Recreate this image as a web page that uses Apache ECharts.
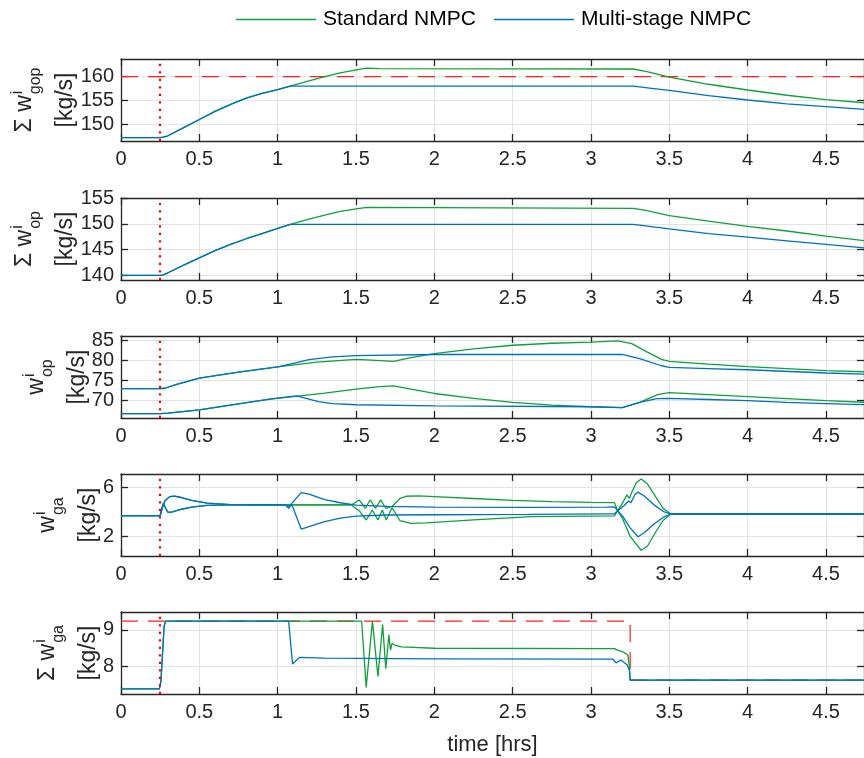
<!DOCTYPE html>
<html><head><meta charset="utf-8">
<script src="https://cdn.jsdelivr.net/npm/echarts@6/dist/echarts.min.js"></script>
<style>html,body{margin:0;padding:0;background:#fff}#c{width:864px;height:758px}</style>
</head><body><div id="c"></div>
<script>
// ---------------- data ----------------
const xTicks = [0, 0.5, 1, 1.5, 2, 2.5, 3, 3.5, 4, 4.5];
const disturbanceTime = 0.252;

// subplot 1: sum w_gop
const gopT_std = [0,0.25,0.27,0.3,0.4,0.5,0.6,0.7,0.8,0.9,1.0,1.08,1.2,1.3,1.4,1.5,1.57,1.65,3.27,3.35,3.5,3.75,4.0,4.25,4.5,4.75];
const gopStd   = [147.2,147.2,147.3,147.6,149.3,151.0,152.7,154.2,155.5,156.5,157.3,158.0,159.1,160.0,160.8,161.4,161.8,161.7,161.6,161.1,159.9,158.4,157.2,156.1,155.2,154.5];
const gopT_ms  = [0,0.25,0.27,0.3,0.4,0.5,0.6,0.7,0.8,0.9,1.0,1.08,3.27,3.4,3.5,3.75,4.0,4.25,4.5,4.75];
const gopMs    = [147.2,147.2,147.3,147.6,149.3,151.0,152.7,154.2,155.5,156.5,157.3,158.0,158.0,157.5,157.1,156.0,155.1,154.3,153.7,153.1];
const gopLimit = 160;
const gopTicks = [150, 155, 160];

// subplot 2: sum w_op
const opT_std = [0,0.25,0.27,0.3,0.4,0.5,0.6,0.7,0.8,0.9,1.0,1.08,1.2,1.3,1.4,1.5,1.57,3.27,3.35,3.5,3.75,4.0,4.25,4.5,4.75];
const opStd   = [140.0,140.0,140.1,140.5,142.0,143.4,144.8,146.0,147.1,148.1,149.1,149.9,150.9,151.7,152.4,152.9,153.2,153.0,152.6,151.6,150.5,149.5,148.6,147.6,146.7];
const opT_ms  = [0,0.25,0.27,0.3,0.4,0.5,0.6,0.7,0.8,0.9,1.0,1.08,3.27,3.5,3.75,4.0,4.25,4.5,4.75];
const opMs    = [140.0,140.0,140.1,140.5,142.0,143.4,144.8,146.0,147.1,148.1,149.1,149.9,149.9,149.0,148.1,147.4,146.7,146.0,145.3];
const opTicks = [140, 145, 150, 155];

// subplot 3: w_op per well
const op1T_std = [0,0.25,0.28,0.35,0.5,0.75,1.0,1.25,1.5,1.6,1.74,1.85,2.0,2.25,2.5,2.75,3.0,3.17,3.26,3.36,3.45,3.5,3.75,4.0,4.25,4.5,4.75];
const op1Std   = [73.0,73.0,73.1,74.0,75.6,77.1,78.4,79.6,80.3,80.1,79.8,80.7,81.7,82.9,83.8,84.3,84.6,84.9,84.2,82.1,80.3,79.8,79.1,78.5,78.0,77.5,77.2];
const op1T_ms  = [0,0.25,0.28,0.35,0.5,0.75,1.0,1.1,1.2,1.35,1.5,2.0,3.2,3.31,3.45,3.5,3.75,4.0,4.5,4.75];
const op1Ms    = [73.0,73.0,73.1,74.0,75.6,77.1,78.4,79.3,80.2,80.9,81.2,81.5,81.5,80.5,78.7,78.3,78.0,77.7,76.9,76.6];
const op2T_std = [0,0.25,0.3,0.5,0.75,0.95,1.1,1.3,1.5,1.65,1.74,1.85,2.0,2.25,2.5,2.75,3.0,3.2,3.31,3.43,3.5,3.75,4.0,4.25,4.5,4.75];
const op2Std   = [66.8,66.8,66.9,67.7,69.2,70.4,71.0,71.9,72.9,73.5,73.7,72.9,71.8,70.6,69.6,68.9,68.5,68.3,69.6,71.6,72.0,71.5,71.0,70.5,70.0,69.6];
const op2T_ms  = [0,0.25,0.3,0.5,0.75,0.95,1.05,1.12,1.2,1.26,1.35,1.5,2.0,3.0,3.2,3.31,3.42,3.5,3.75,4.0,4.25,4.5,4.75];
const op2Ms    = [66.8,66.8,66.9,67.7,69.2,70.4,70.9,71.2,70.4,69.8,69.3,69.0,68.7,68.5,68.3,69.6,70.5,70.6,70.3,70.0,69.6,69.3,69.0];
const opWellTicks = [70, 75, 80, 85];

// subplot 4: w_ga per well
const ga1T_std = [0,0.25,0.265,0.28,0.31,0.34,0.38,0.45,0.55,0.7,0.9,1.47,1.52,1.56,1.59,1.625,1.657,1.69,1.73,1.78,1.82,1.9,2.0,2.25,2.5,2.75,3.0,3.15,3.17,3.2,3.25,3.32,3.36,3.41,3.46,3.51,4.75];
const ga1Std   = [3.7,3.7,4.4,4.9,5.25,5.3,5.2,4.95,4.72,4.6,4.58,4.57,4.98,4.30,4.98,4.30,4.98,4.30,4.45,5.1,5.28,5.31,5.25,5.1,4.95,4.85,4.78,4.76,4.1,3.5,2.0,0.87,1.2,2.3,3.3,3.83,3.83];
const ga2T_std = [0,0.25,0.27,0.285,0.30,0.33,0.38,0.45,0.55,0.7,0.9,1.47,1.52,1.566,1.604,1.64,1.668,1.693,1.73,1.78,1.85,1.95,2.25,2.62,3.0,3.15,3.17,3.2,3.23,3.245,3.26,3.29,3.32,3.36,3.41,3.46,3.51,4.75];
const ga2Std   = [3.7,3.7,4.7,4.3,3.97,4.0,4.2,4.4,4.53,4.58,4.58,4.57,4.1,3.34,4.16,3.34,4.16,3.34,4.35,3.3,3.07,3.1,3.35,3.61,3.66,3.68,4.1,4.7,5.4,5.1,5.6,6.4,6.7,6.3,5.3,4.3,3.83,3.83];
const ga1T_ms  = [0,0.25,0.265,0.28,0.31,0.34,0.38,0.45,0.55,0.7,0.9,1.05,1.07,1.09,1.15,1.2,1.3,1.4,1.5,1.7,2.0,2.6,3.1,3.15,3.17,3.2,3.25,3.30,3.34,3.40,3.46,3.51,4.75];
const ga1Ms    = [3.7,3.7,4.4,4.9,5.25,5.3,5.2,4.95,4.72,4.6,4.58,4.57,4.45,4.7,5.58,5.45,5.0,4.75,4.55,4.45,4.4,4.38,4.4,4.42,4.1,3.7,2.7,1.97,2.3,3.0,3.55,3.83,3.83];
const ga2T_ms  = [0,0.25,0.27,0.285,0.30,0.33,0.38,0.45,0.55,0.7,0.9,1.05,1.07,1.09,1.15,1.2,1.3,1.4,1.5,1.7,2.0,2.6,3.1,3.15,3.17,3.21,3.24,3.255,3.28,3.30,3.34,3.40,3.46,3.51,4.75];
const ga2Ms    = [3.7,3.7,4.7,4.3,3.97,4.0,4.2,4.4,4.53,4.58,4.58,4.57,4.3,4.6,2.6,2.8,3.2,3.5,3.65,3.75,3.77,3.8,3.85,3.85,4.1,4.5,4.9,4.75,5.4,5.62,5.3,4.6,4.05,3.83,3.83];
const gaTicks = [2, 6];

// subplot 5: sum w_ga
const sumT_std = [0,0.245,0.255,0.275,0.285,1.536,1.565,1.605,1.64,1.67,1.69,1.71,1.72,1.73,1.75,1.79,2.0,3.15,3.17,3.2,3.235,3.245,3.25,4.75];
const sumStd   = [7.39,7.39,7.6,9.1,9.24,9.24,7.43,9.24,7.73,9.15,7.94,8.87,8.45,8.63,8.58,8.54,8.5,8.49,8.45,8.41,8.32,8.0,7.63,7.63];
const sumT_ms  = [0,0.245,0.255,0.275,0.285,1.07,1.095,1.14,1.3,2.0,3.14,3.16,3.19,3.23,3.245,3.25,4.75];
const sumMs    = [7.39,7.39,7.6,9.1,9.24,9.24,8.07,8.25,8.23,8.21,8.2,8.1,8.18,8.05,7.9,7.63,7.63];
const sumLimT  = [0,3.25,3.25,4.75];
const sumLimV  = [9.24,9.24,7.63,7.63];
const sumTicks = [8, 9];

// ---------------- layout / style ----------------
const FONT = '"Liberation Sans", Arial, Helvetica, sans-serif';
const TXT = '#262626';
const GREEN = '#0fa03c';
const BLUE = '#0072bd';
const RED = '#ff1f1f';
const tops = [59, 198, 336, 474, 612];
const H = 82, LEFT = 121, W = 746;
const XMAX = W / 157.3;
const yRanges = [[146.5,163.7],[139.1,155.0],[65.7,86.1],[0.4,7.1],[7.25,9.49]];
const yTicks = [gopTicks, opTicks, opWellTicks, gaTicks, sumTicks];

const pairs = (t, v) => t.map((x, i) => [x, v[i]]);

const grid = tops.map(t => ({left: LEFT, top: t, width: W, height: H, containLabel: false}));
const xAxis = [], yAxis = [];
tops.forEach((t, i) => {
  const common = {type: 'value', gridIndex: i, min: 0, max: XMAX,
    axisLine: {show: true, onZero: false, lineStyle: {color: TXT, width: 1.3}},
    axisTick: {show: true, inside: true, length: 7, customValues: xTicks, lineStyle: {color: TXT, width: 1.3}}};
  xAxis.push(Object.assign({}, common, {position: 'bottom',
    axisLabel: {show: true, customValues: xTicks, margin: 8, fontSize: 20, fontFamily: FONT, color: TXT},
    splitLine: {show: true, lineStyle: {color: '#e3e3e3', width: 1}},
    name: i === 4 ? 'time [hrs]' : '', nameLocation: 'middle', nameGap: 40,
    nameTextStyle: {fontSize: 22, fontFamily: FONT, color: TXT}}));
  xAxis.push(Object.assign({}, common, {position: 'top', axisLabel: {show: false}, splitLine: {show: false}}));
  const yc = {type: 'value', gridIndex: i, min: yRanges[i][0], max: yRanges[i][1],
    axisLine: {show: true, onZero: false, lineStyle: {color: TXT, width: 1.3}},
    axisTick: {show: true, inside: true, length: 7, customValues: yTicks[i], lineStyle: {color: TXT, width: 1.3}}};
  yAxis.push(Object.assign({}, yc, {position: 'left',
    axisLabel: {show: true, customValues: yTicks[i], margin: 7, fontSize: 20, fontFamily: FONT, color: TXT},
    splitLine: {show: true, lineStyle: {color: '#e3e3e3', width: 1}}}));
  yAxis.push(Object.assign({}, yc, {position: 'right', axisLabel: {show: false}, splitLine: {show: false}}));
});

const series = [];
function line(name, gi, data, color, extra) {
  return Object.assign({type: 'line', name, xAxisIndex: 2 * gi, yAxisIndex: 2 * gi, data,
    symbol: 'none', showSymbol: false, smooth: false, animation: false,
    lineStyle: {color, width: 1.3}, itemStyle: {color}, z: 3}, extra || {});
}
function limit(gi, data) {
  return {type: 'line', name: 'limit', xAxisIndex: 2 * gi, yAxisIndex: 2 * gi, data,
    symbol: 'none', showSymbol: false, animation: false, silent: true,
    lineStyle: {color: RED, width: 1.2, type: [17, 10]}, z: 2};
}
function dotted() {
  return {silent: true, symbol: 'none', animation: false, label: {show: false},
    lineStyle: {color: '#ff0000', width: 2.2, type: [2.2, 5.3]}, data: [{xAxis: disturbanceTime}]};
}
series.push(limit(0, gopT_std.map(x => [x, gopLimit])));
series.push(limit(4, pairs(sumLimT, sumLimV)));
const S = 'Standard NMPC', M = 'Multi-stage NMPC';
series.push(line(S, 0, pairs(gopT_std, gopStd), GREEN));
series.push(line(M, 0, pairs(gopT_ms, gopMs), BLUE, {markLine: dotted(), z: 4}));
series.push(line(S, 1, pairs(opT_std, opStd), GREEN));
series.push(line(M, 1, pairs(opT_ms, opMs), BLUE, {markLine: dotted(), z: 4}));
series.push(line(S, 2, pairs(op1T_std, op1Std), GREEN));
series.push(line(S, 2, pairs(op2T_std, op2Std), GREEN));
series.push(line(M, 2, pairs(op1T_ms, op1Ms), BLUE, {z: 4}));
series.push(line(M, 2, pairs(op2T_ms, op2Ms), BLUE, {markLine: dotted(), z: 4}));
series.push(line(S, 3, pairs(ga1T_std, ga1Std), GREEN));
series.push(line(S, 3, pairs(ga2T_std, ga2Std), GREEN));
series.push(line(M, 3, pairs(ga1T_ms, ga1Ms), BLUE, {z: 4}));
series.push(line(M, 3, pairs(ga2T_ms, ga2Ms), BLUE, {markLine: dotted(), z: 4}));
series.push(line(S, 4, pairs(sumT_std, sumStd), GREEN));
series.push(line(M, 4, pairs(sumT_ms, sumMs), BLUE, {markLine: dotted(), z: 4}));

// ---------------- y-axis labels (rotated, with sub/superscripts) ----------------
const LF = 23, SF = 16;
const ctx = document.createElement('canvas').getContext('2d');
function tw(s, f) { ctx.font = f + 'px ' + FONT; return ctx.measureText(s).width; }
const labelSpecs = [
  {main: 'Σ w', sup: 'i', sub: 'gop', x2: 66},
  {main: 'Σ w', sup: 'i', sub: 'op', x2: 66},
  {main: 'w', sup: 'i', sub: 'op', x2: 78},
  {main: 'w', sup: 'i', sub: 'ga', x2: 89},
  {main: 'Σ w', sup: 'i', sub: 'ga', x2: 89}
];
const graphic = labelSpecs.map((sp, i) => {
  const cy = tops[i] + H / 2;
  const wm = tw(sp.main, LF), ws = Math.max(tw(sp.sub, SF), tw(sp.sup, SF));
  const total = wm + 1 + ws;
  const lx0 = -total / 2;
  const x1 = sp.x2 - 41;
  const wl2 = tw('[kg/s]', LF);
  const st = (text, size) => ({text, font: size + 'px ' + FONT, fill: TXT,
    textAlign: 'left', align: 'left', textVerticalAlign: 'middle', verticalAlign: 'middle'});
  return {type: 'group', x: 0, y: cy, rotation: Math.PI / 2, silent: true, children: [
    {type: 'text', x: lx0, y: x1, style: st(sp.main, LF)},
    {type: 'text', x: lx0 + wm + 1, y: x1 - 7, style: st(sp.sup, SF)},
    {type: 'text', x: lx0 + wm + 1, y: x1 + 11, style: st(sp.sub, SF)},
    {type: 'text', x: -wl2 / 2, y: sp.x2, style: st('[kg/s]', LF)}
  ]};
});

const chart = echarts.init(document.getElementById('c'), null, {renderer: 'canvas'});
chart.setOption({
  animation: false,
  backgroundColor: '#ffffff',
  legend: {data: [S, M], left: 236, top: 9, padding: 0, icon: 'rect', itemWidth: 80, itemHeight: 1.3,
    itemGap: 18, textStyle: {fontSize: 21, fontFamily: FONT, color: '#000', padding: [0, 0, 0, 2]},
    selectedMode: false},
  grid, xAxis, yAxis, series, graphic
});
</script></body></html>
